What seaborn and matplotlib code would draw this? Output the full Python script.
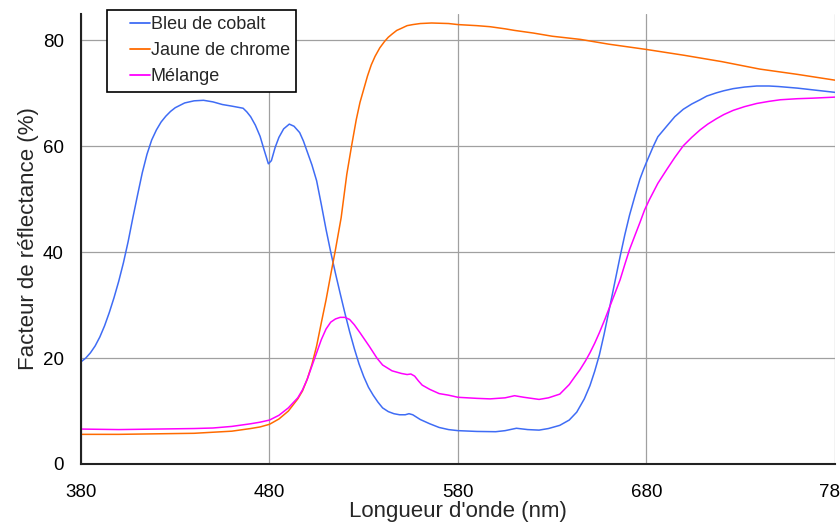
import numpy as np
import pandas as pd
import matplotlib
matplotlib.use("Agg")
import matplotlib.pyplot as plt
import seaborn as sns
from matplotlib.legend_handler import HandlerLine2D
from matplotlib.lines import Line2D

# ---------------- data ----------------
series_names = ["Bleu de cobalt", "Jaune de chrome", "Mélange"]
series_colors = ["#3f6cf5", "#ff6a00", "#ff00ff"]

bleu_wl = [380, 382.5, 385, 387.5, 390, 392.5, 395, 397.5, 400, 402.5, 405, 407.5,
           410, 412.5, 415, 417.5, 420, 422.5, 425, 427.5, 430, 435, 440, 445,
           450, 455, 460, 466, 468, 470, 472.5, 475, 477, 479.4, 481, 483, 485,
           487.5, 490.5, 493, 496, 498, 500, 502.5, 505, 507.5, 510, 512.5, 515,
           517.5, 520, 522.5, 525, 527.5, 530, 532.5, 535, 537.5, 540, 543, 546,
           549, 552, 554, 556, 560, 565, 570, 575, 580, 590, 600, 605, 611, 617,
           623, 628, 634, 639, 643, 647, 650, 652.5, 655, 657.5, 660, 663, 666,
           668.5, 671, 674, 676.5, 678.5, 680, 683.6, 686, 690.7, 695, 699.5, 704,
           708.4, 712, 717, 721, 726, 732, 738.5, 745, 750, 760, 770, 780]
bleu_val = [19.3, 20.0, 21.0, 22.3, 24.0, 26.1, 28.6, 31.4, 34.5, 38.0, 42.0, 46.5,
            50.8, 55.0, 58.5, 61.2, 63.1, 64.6, 65.7, 66.6, 67.3, 68.2, 68.6, 68.7,
            68.4, 67.9, 67.6, 67.2, 66.5, 65.6, 64.0, 61.9, 59.5, 56.7, 57.3, 59.8,
            61.7, 63.3, 64.2, 63.8, 62.6, 61.0, 59.0, 56.5, 53.5, 49.0, 44.3, 40.0,
            36.0, 32.2, 28.5, 25.0, 21.8, 18.9, 16.5, 14.5, 13.0, 11.7, 10.6, 9.9,
            9.5, 9.3, 9.3, 9.5, 9.3, 8.4, 7.6, 6.9, 6.5, 6.3, 6.15, 6.1, 6.3, 6.75,
            6.5, 6.4, 6.7, 7.3, 8.3, 9.8, 12.3, 14.8, 17.5, 20.6, 24.5, 28.8, 34.0,
            39.2, 43.3, 47.0, 50.8, 53.8, 55.7, 57.0, 60.0, 61.8, 63.8, 65.6, 67.0,
            68.0, 68.8, 69.5, 70.1, 70.5, 70.9, 71.2, 71.4, 71.4, 71.3, 71.0, 70.6,
            70.2]

jaune_wl = [380, 400, 420, 440, 450, 460, 470, 475, 480, 485, 490, 495, 497.5, 500,
            502.5, 505, 507.5, 510, 512.5, 515, 518, 521, 523.5, 526, 528, 530, 532,
            534, 536, 538.5, 541, 543, 545, 547.5, 550, 553, 556, 560, 566, 575,
            580, 590, 597, 605, 610, 620, 630, 640, 645, 660, 680, 700, 720, 740,
            760, 780]
jaune_val = [5.6, 5.6, 5.7, 5.8, 6.0, 6.2, 6.7, 7.0, 7.5, 8.5, 10.0, 12.3, 13.8,
             16.0, 18.8, 22.3, 26.7, 31.0, 35.8, 40.5, 46.5, 54.7, 60.0, 65.0, 68.3,
             70.8, 73.3, 75.4, 77.0, 78.6, 79.8, 80.6, 81.2, 81.9, 82.3, 82.8, 83.0,
             83.2, 83.3, 83.2, 83.0, 82.8, 82.6, 82.2, 81.9, 81.4, 80.8, 80.4, 80.2,
             79.3, 78.3, 77.2, 76.0, 74.6, 73.6, 72.5]

melange_wl = [380, 400, 420, 440, 450, 460, 470, 475, 480, 485, 490, 495, 497.5,
              500, 502.5, 505, 507.5, 510, 512.5, 515, 517.5, 520, 522.5, 525, 528,
              530.5, 533, 537, 540, 545, 550, 553, 555, 557, 559, 561, 565, 570, 575,
              580, 590, 597, 605, 610, 615, 623, 628, 634, 639, 642, 644.7, 647.5,
              650, 652.5, 655, 658, 660.6, 663, 666, 668.5, 671, 674, 676.5, 679,
              681.5, 686, 690.7, 695, 699.5, 704, 708.4, 712.5, 717, 721, 726, 732,
              738.5, 745, 751, 760, 768, 780]
melange_val = [6.6, 6.5, 6.6, 6.7, 6.8, 7.1, 7.6, 7.9, 8.3, 9.2, 10.6, 12.5, 14.0,
               16.0, 18.5, 21.0, 23.5, 25.5, 26.8, 27.4, 27.7, 27.7, 27.3, 26.3, 24.8,
               23.5, 22.2, 20.0, 18.7, 17.6, 17.1, 16.9, 17.0, 16.6, 15.7, 14.9, 14.1,
               13.3, 13.0, 12.6, 12.4, 12.3, 12.5, 12.9, 12.6, 12.2, 12.5, 13.2, 15.0,
               16.5, 17.8, 19.4, 21.0, 22.8, 24.8, 27.4, 29.8, 32.0, 34.8, 37.7, 40.5,
               43.3, 45.6, 48.0, 49.9, 53.0, 55.6, 57.9, 60.1, 61.7, 63.1, 64.2, 65.2,
               66.0, 66.8, 67.5, 68.1, 68.5, 68.8, 69.0, 69.1, 69.3]

x_ticks = [380, 480, 580, 680, 780]
y_ticks = [0, 20, 40, 60, 80]
x_label = "Longueur d'onde (nm)"
y_label = "Facteur de réflectance (%)"

df = pd.concat([
    pd.DataFrame({"wl": bleu_wl, "val": bleu_val, "serie": series_names[0]}),
    pd.DataFrame({"wl": jaune_wl, "val": jaune_val, "serie": series_names[1]}),
    pd.DataFrame({"wl": melange_wl, "val": melange_val, "serie": series_names[2]}),
], ignore_index=True)

# ---------------- style ----------------
sns.set_style("white")
plt.rcParams["font.family"] = ["Liberation Sans", "DejaVu Sans"]

fig = plt.figure(figsize=(8.4, 5.24), dpi=100)
ax = fig.add_axes([81 / 840, 1 - 464 / 524, (835 - 81) / 840, (464 - 14) / 524])

sns.lineplot(data=df, x="wl", y="val", hue="serie", hue_order=series_names,
             palette=dict(zip(series_names, series_colors)), estimator=None,
             linewidth=1.1, ax=ax, legend=False)

ax.set_xlim(380, 780)
ax.set_ylim(0, 85)
ax.set_xticks(x_ticks)
ax.set_yticks(y_ticks)
ax.grid(True, color="#a0a0a0", linewidth=0.9)
ax.set_axisbelow(True)
for s in ["top", "right"]:
    ax.spines[s].set_visible(False)
for s in ["left", "bottom"]:
    ax.spines[s].set_color("#222222")
    ax.spines[s].set_linewidth(1.5)
ax.tick_params(axis="both", direction="out", length=4.3, width=1.2,
               color="#222222", labelsize=13.5, labelcolor="black")
ax.tick_params(axis="x", pad=10)
ax.tick_params(axis="y", pad=8)
ax.set_xlabel(x_label, fontsize=16, labelpad=0)
ax.set_ylabel(y_label, fontsize=16, labelpad=3)


class ShiftedLine(HandlerLine2D):
    def create_artists(self, legend, orig_handle, xdescent, ydescent, width,
                       height, fontsize, trans):
        arts = super().create_artists(legend, orig_handle, xdescent, ydescent,
                                      width, height, fontsize, trans)
        frac = 0.45
        for a in arts:
            if isinstance(a, Line2D):
                x = np.asarray(a.get_xdata(), dtype=float)
                if len(x) >= 2:
                    x0, x1 = x[0], x[-1]
                    a.set_xdata(x0 + frac * (x1 - x0) + (x - x0) * (1 - frac))
        return arts


handles = [Line2D([], [], color=c, linewidth=1.3) for c in series_colors]
leg = fig.legend(handles, series_names, loc="upper left",
                 bbox_to_anchor=(107 / 840, 1 - 9.5 / 524),
                 bbox_transform=fig.transFigure, borderaxespad=0,
                 fontsize=13, frameon=True, fancybox=False,
                 edgecolor="black", framealpha=1, borderpad=0.36,
                 handlelength=2.0, handletextpad=0.05, labelspacing=0.5,
                 handler_map={Line2D: ShiftedLine()})
leg.get_frame().set_linewidth(1.2)

fig.savefig("out.png", dpi=100)
